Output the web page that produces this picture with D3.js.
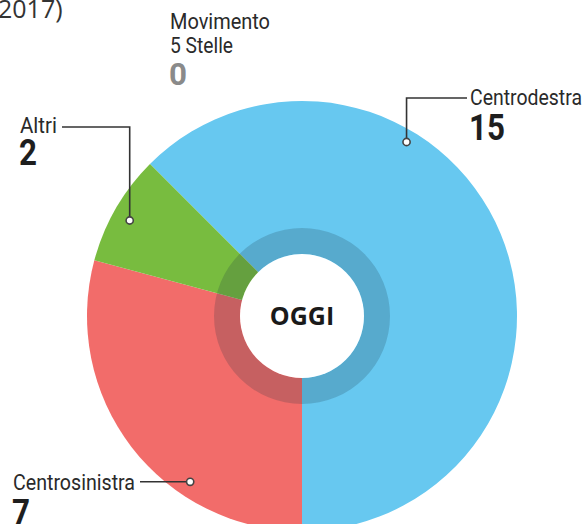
<!DOCTYPE html>
<html>
<head>
<meta charset="utf-8">
<script src="https://cdn.jsdelivr.net/npm/d3@7"></script>
<style>
  html, body { margin: 0; padding: 0; background: #fff; }
  svg { display: block; }
  .lbl { font-family: "Roboto", "Noto Sans", sans-serif; font-size: 22px; fill: #2a2a2a; }
  .num { font-family: "Roboto", "Noto Sans", sans-serif; font-size: 37px; font-weight: bold; fill: #1e1e1e; }
</style>
</head>
<body>
<div id="container"></div>
<script>
const parties = ['Centrodestra', 'Centrosinistra', 'Altri', 'Movimento 5 Stelle'];
const seats = [15, 7, 2, 0];

const colors = ['#67c8f0', '#f26c6a', '#78bc3f', '#8a8a8a'];

const width = 587;
const height = 524;
const cx = 302, cy = 316;
const outerR = 215;

const svg = d3.select('#container')
  .append('svg')
  .attr('width', width)
  .attr('height', height);

// clipped subtitle at the top
svg.append('text')
  .attr('x', -2)
  .attr('y', 18)
  .attr('style', 'font-family: "Open Sans", sans-serif; font-size: 25px; fill: #333')
  .text('2017)');

const data = parties.map((p, i) => ({ party: p, seats: seats[i], color: colors[i] }));

const pie = d3.pie()
  .sort(null)
  .value(d => d.seats)
  .startAngle(-Math.PI / 4)
  .endAngle(Math.PI * 7 / 4);

const arc = d3.arc().innerRadius(0).outerRadius(outerR);

const g = svg.append('g').attr('transform', `translate(${cx},${cy})`);

g.selectAll('path.slice')
  .data(pie(data).filter(d => d.data.seats > 0))
  .enter()
  .append('path')
  .attr('class', 'slice')
  .attr('d', arc)
  .attr('fill', d => d.data.color);

// darker ring and white hole
g.append('path')
  .attr('d', d3.arc().innerRadius(62).outerRadius(88).startAngle(0).endAngle(2 * Math.PI)())
  .attr('fill', '#1a3040')
  .attr('fill-opacity', 0.2);

g.append('circle').attr('r', 62).attr('fill', '#fff');

g.append('text')
  .attr('text-anchor', 'middle')
  .attr('y', 9)
  .attr('style', 'font-family: "Open Sans", sans-serif; font-weight: bold; font-size: 25px; fill: #1a1a1a')
  .text('OGGI');

// squeeze text to the condensed widths of the original
function label(x, y, txt, w, cls) {
  return svg.append('text').attr('class', cls)
    .attr('x', x).attr('y', y)
    .attr('textLength', w)
    .attr('lengthAdjust', 'spacingAndGlyphs')
    .text(txt);
}

// label layout: angle (deg) and radius of the dot, elbow and text spots
const layout = {
  'Centrodestra': { a: 31, r: 203, elbowY: 98, lineTo: 467, tx: 470, ty: 105, tw: 112, nx: 469, ny: 140 },
  'Altri': { a: 299, r: 197, elbowY: 127, lineTo: 62, tx: 20, ty: 133, tw: 37, nx: 19, ny: 165 },
  'Centrosinistra': { a: 214, r: 200, elbowY: null, lineTo: 140, tx: 13, ty: 490, tw: 122, nx: 12, ny: 525 }
};

data.forEach(d => {
  const L = layout[d.party];
  if (!L) return;
  const ang = L.a * Math.PI / 180;
  const px = cx + L.r * Math.sin(ang);
  const py = cy - L.r * Math.cos(ang);
  const pts = L.elbowY !== null
    ? [[px, py], [px, L.elbowY], [L.lineTo, L.elbowY]]
    : [[px, py], [L.lineTo, py]];
  svg.append('path')
    .attr('d', d3.line()(pts))
    .attr('fill', 'none')
    .attr('stroke', '#333')
    .attr('stroke-width', 1.6);
  svg.append('circle')
    .attr('cx', px).attr('cy', py).attr('r', 3.6)
    .attr('fill', '#fff')
    .attr('stroke', '#444')
    .attr('stroke-width', 1.6);
  label(L.tx, L.ty, d.party, L.tw, 'lbl');
  label(L.nx, L.ny, d.seats, 18 * String(d.seats).length, 'num');
});

// Movimento 5 Stelle has no slice, only a label
const m5s = data.find(d => d.party === 'Movimento 5 Stelle');
const words = m5s.party.split(' ');
label(170, 29, words[0], 100, 'lbl');
label(170, 53, words.slice(1).join(' '), 63, 'lbl');
label(169, 85, m5s.seats, 18, 'num').style('fill', m5s.color).style('font-size', '32px');
</script>
</body>
</html>
